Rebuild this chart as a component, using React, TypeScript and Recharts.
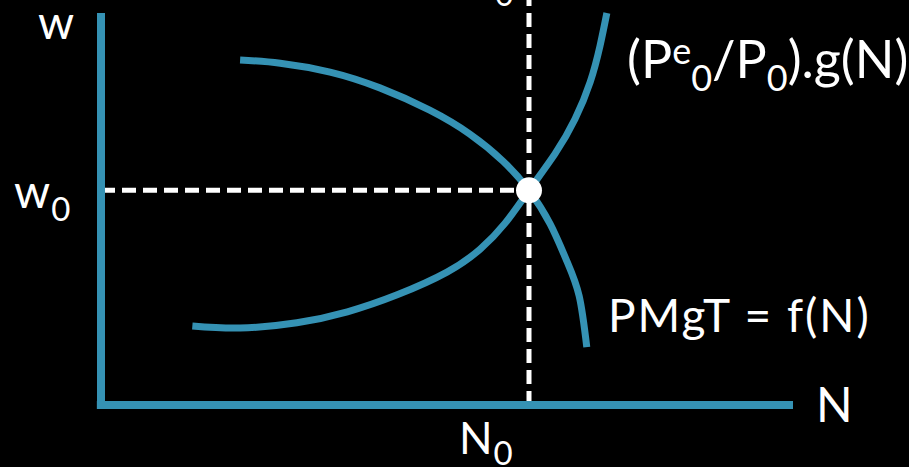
import React from 'react';
import { ComposedChart, Line, XAxis, YAxis, ReferenceLine, ReferenceDot } from 'recharts';

// labour market: N on x (0..100), real wage w on y (0..100)
const pmgtN = [20.1, 25.9, 33.1, 40.3, 47.5, 53.3, 58.1, 61.85, 64.9, 67.3, 69.1, 70.2];
const pmgtW = [85.2, 84.4, 82.2, 78.3, 72.8, 66.9, 60.2, 53.0, 44.7, 35.6, 26.9, 14.3];

const supplyN = [13.2, 20.1, 28.3, 35.6, 42.8, 50.0, 54.8, 58.4, 61.85, 65.6, 68.5, 70.7, 72.1, 73.1];
const supplyW = [19.5, 19.0, 20.3, 23.0, 27.2, 32.8, 38.5, 44.9, 53.0, 62.0, 70.6, 79.8, 88.6, 96.8];

const N0 = 61.85;
const W0 = 53.0;
const axisTop = 96.8;

const teal = '#3592b4';
const W = 909;
const H = 467;

const pmgt = pmgtN.map((n, i) => ({ n, w: pmgtW[i] }));
const supply = supplyN.map((n, i) => ({ n, w: supplyW[i] }));

const font = 'Lato, "Open Sans", sans-serif';

export default function App() {
  return (
    <div style={{ position: 'absolute', left: 0, top: 0, width: W, height: H, background: '#000', overflow: 'hidden' }}>
      <ComposedChart width={W} height={H} margin={{ top: 0, right: 116, bottom: 62, left: 101 }}>
        <XAxis type="number" dataKey="n" domain={[0, 100]} hide />
        <YAxis type="number" dataKey="w" domain={[0, 100]} hide />
        <ReferenceLine x={N0} stroke="#fff" strokeWidth={5} strokeDasharray="14 7" />
        <ReferenceLine
          segment={[{ x: 0, y: W0 }, { x: N0, y: W0 }]}
          stroke="#fff"
          strokeWidth={5}
          strokeDasharray="14 7"
        />
        <Line data={pmgt} dataKey="w" type="natural" stroke={teal} strokeWidth={7} dot={false} isAnimationActive={false} />
        <Line data={supply} dataKey="w" type="natural" stroke={teal} strokeWidth={7} dot={false} isAnimationActive={false} />
        <ReferenceLine segment={[{ x: 0, y: 0 }, { x: 0, y: axisTop }]} stroke={teal} strokeWidth={8} ifOverflow="visible" />
        <ReferenceLine segment={[{ x: -0.6, y: 0 }, { x: 100, y: 0 }]} stroke={teal} strokeWidth={8} ifOverflow="visible" />
        <ReferenceDot x={N0} y={W0} r={13} fill="#fff" stroke="none" ifOverflow="visible" />
      </ComposedChart>
      <svg width={W} height={H} style={{ position: 'absolute', left: 0, top: 0 }} fontFamily={font} fill="#fff">
        <text x={495} y={6} fontSize={32}>0</text>
        <text x={38} y={39} fontSize={46} letterSpacing={1}>w</text>
        <text x={14} y={208} fontSize={46} letterSpacing={1}>
          w<tspan fontSize={33} dy={13}>0</tspan>
        </text>
        <text x={459} y={454} fontSize={44} letterSpacing={1}>
          N<tspan fontSize={33} dy={11}>0</tspan>
        </text>
        <text x={816} y={422} fontSize={48}>N</text>
        <text x={608} y={332} fontSize={46} letterSpacing={2}>PMgT = f(N)</text>
        <text x={627} y={78} fontSize={52}>
          (P<tspan fontSize={36} dy={-14}>e</tspan>
          <tspan fontSize={36} dy={27}>0</tspan>
          <tspan dy={-13}>/P</tspan>
          <tspan fontSize={36} dy={13}>0</tspan>
          <tspan dy={-13}>).g(N)</tspan>
        </text>
      </svg>
    </div>
  );
}
